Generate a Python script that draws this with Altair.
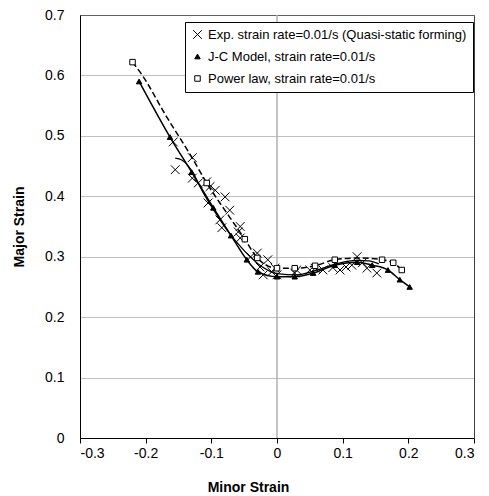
import altair as alt
import pandas as pd

# ---- data ----
series_names = ["Exp. strain rate=0.01/s (Quasi-static forming)",
                "J-C Model, strain rate=0.01/s",
                "Power law, strain rate=0.01/s"]

exp_x = [-0.158, -0.129, -0.155, -0.129, -0.120, -0.107, -0.102, -0.094, -0.079,
         -0.105, -0.072, -0.087, -0.084, -0.056, -0.059, -0.056, -0.040, -0.030,
         -0.026, -0.014, -0.021, -0.008, 0.000, -0.003, 0.027, 0.030, 0.050,
         0.058, 0.070, 0.085, 0.096, 0.105, 0.114, 0.122, 0.130, 0.137, 0.152]
exp_y = [0.490, 0.464, 0.444, 0.430, 0.422, 0.424, 0.416, 0.410, 0.399,
         0.389, 0.377, 0.361, 0.348, 0.350, 0.341, 0.331, 0.300, 0.306,
         0.283, 0.295, 0.270, 0.275, 0.270, 0.281, 0.273, 0.278, 0.278,
         0.281, 0.278, 0.282, 0.278, 0.283, 0.286, 0.300, 0.290, 0.281, 0.273]

exp_fit_x = [-0.155, -0.145, -0.135, -0.128, -0.113, -0.095, -0.076, -0.050,
             -0.025, 0.000, 0.030, 0.060, 0.090, 0.120, 0.140, 0.155]
exp_fit_y = [0.463, 0.460, 0.450, 0.439, 0.407, 0.375, 0.344, 0.310,
             0.285, 0.272, 0.270, 0.278, 0.288, 0.294, 0.293, 0.288]

jc_x = [-0.210, -0.163, -0.130, -0.097, -0.070, -0.046, -0.029, 0.000, 0.027,
        0.055, 0.088, 0.122, 0.145, 0.169, 0.187, 0.202]
jc_y = [0.590, 0.498, 0.440, 0.381, 0.335, 0.295, 0.275, 0.267, 0.267,
        0.273, 0.286, 0.291, 0.286, 0.278, 0.262, 0.250]

pl_x = [-0.220, -0.107, -0.049, -0.030, 0.000, 0.027, 0.058, 0.088, 0.160, 0.177, 0.190]
pl_y = [0.622, 0.422, 0.329, 0.298, 0.281, 0.281, 0.285, 0.295, 0.295, 0.290, 0.278]

pl_line_x = [-0.220, -0.205, -0.170, -0.130, -0.107, -0.075, -0.049, -0.030, 0.000,
             0.027, 0.058, 0.088, 0.125, 0.160, 0.177, 0.190]
pl_line_y = [0.622, 0.600, 0.535, 0.465, 0.422, 0.370, 0.329, 0.298, 0.281,
             0.281, 0.285, 0.295, 0.298, 0.295, 0.290, 0.278]

x_ticks = [-0.3, -0.2, -0.1, 0.0, 0.1, 0.2, 0.3]
y_ticks = [0.0, 0.1, 0.2, 0.3, 0.4, 0.5, 0.6, 0.7]

FONT = "Liberation Sans"
CROSS = "M-1.6,-1.6L1.6,1.6M-1.6,1.6L1.6,-1.6"

pts = pd.concat([
    pd.DataFrame({"x": exp_x, "y": exp_y, "series": series_names[0]}),
    pd.DataFrame({"x": jc_x, "y": jc_y, "series": series_names[1]}),
    pd.DataFrame({"x": pl_x, "y": pl_y, "series": series_names[2]}),
], ignore_index=True)

fit_df = pd.DataFrame({"x": exp_fit_x, "y": exp_fit_y})
jc_df = pd.DataFrame({"x": jc_x, "y": jc_y})
pl_df = pd.DataFrame({"x": pl_line_x, "y": pl_line_y})
zero_df = pd.DataFrame({"x": [0.0]})

lbl = "datum.value == 0 ? '0' : toString(round(datum.value*10)/10)"

xscale = alt.Scale(domain=[-0.3, 0.3], nice=False, zero=False)
yscale = alt.Scale(domain=[0, 0.7], nice=False)

xaxis = alt.Axis(title="Minor Strain", values=x_ticks, labelExpr=lbl, grid=False,
                 domainColor="black", tickColor="black", tickSize=5,
                 labelFont=FONT, labelFontSize=14, labelColor="black", labelPadding=3,
                 titleFont=FONT, titleFontSize=14, titleFontWeight="bold",
                 titleColor="black", titlePadding=20, titleX=168, titleAlign="center")
yaxis = alt.Axis(title="Major Strain", values=y_ticks, labelExpr=lbl, grid=True,
                 gridColor="#808080", gridDash=[1, 1], ticks=False,
                 domainColor="black", labelFont=FONT, labelFontSize=14,
                 labelColor="black", labelPadding=16,
                 titleFont=FONT, titleFontSize=14, titleFontWeight="bold",
                 titleColor="black", titlePadding=18)

legend = alt.Legend(orient="none", legendX=105, legendY=7, title=None,
                    strokeColor="black", fillColor="white", padding=6,
                    labelFont=FONT, labelFontSize=13, labelColor="black",
                    labelLimit=400, symbolStrokeColor="black", symbolStrokeWidth=1,
                    symbolSize=30, rowPadding=8, labelOffset=4, cornerRadius=0)

zero_rule = alt.Chart(zero_df).mark_rule(color="#b0b0b0", strokeWidth=1.5).encode(
    x=alt.X("x:Q", scale=xscale, axis=xaxis))

fit_line = alt.Chart(fit_df).mark_line(color="black", strokeWidth=1.3,
                                       interpolate="monotone").encode(
    x=alt.X("x:Q", scale=xscale, axis=xaxis),
    y=alt.Y("y:Q", scale=yscale, axis=yaxis))

jc_line = alt.Chart(jc_df).mark_line(color="black", strokeWidth=1.5,
                                     interpolate="monotone").encode(
    x=alt.X("x:Q", scale=xscale, axis=xaxis),
    y=alt.Y("y:Q", scale=yscale, axis=yaxis))

pl_line = alt.Chart(pl_df).mark_line(color="black", strokeWidth=1.5,
                                     strokeDash=[6, 3], interpolate="monotone").encode(
    x=alt.X("x:Q", scale=xscale, axis=xaxis),
    y=alt.Y("y:Q", scale=yscale, axis=yaxis))

points = alt.Chart(pts).mark_point(filled=True, strokeWidth=1, opacity=1, size=30).encode(
    x=alt.X("x:Q", scale=xscale, axis=xaxis),
    y=alt.Y("y:Q", scale=yscale, axis=yaxis),
    shape=alt.Shape("series:N", legend=legend,
                    scale=alt.Scale(domain=series_names,
                                    range=[CROSS, "triangle-up", "square"])),
    fill=alt.Fill("series:N", legend=legend,
                  scale=alt.Scale(domain=series_names,
                                  range=["transparent", "black", "white"])),
    stroke=alt.Stroke("series:N", legend=legend,
                      scale=alt.Scale(domain=series_names,
                                      range=["black", "black", "black"])),
)

chart = alt.layer(zero_rule, fit_line, jc_line, pl_line, points).properties(
    width=394, height=423,
    autosize=alt.AutoSizeParams(type="none"),
    padding={"left": 72, "top": 7, "right": 7, "bottom": 58},
    background="white",
).configure_view(stroke="#404040", strokeWidth=1)

chart.save("out.html", embed_options={"renderer": "svg", "actions": False})
